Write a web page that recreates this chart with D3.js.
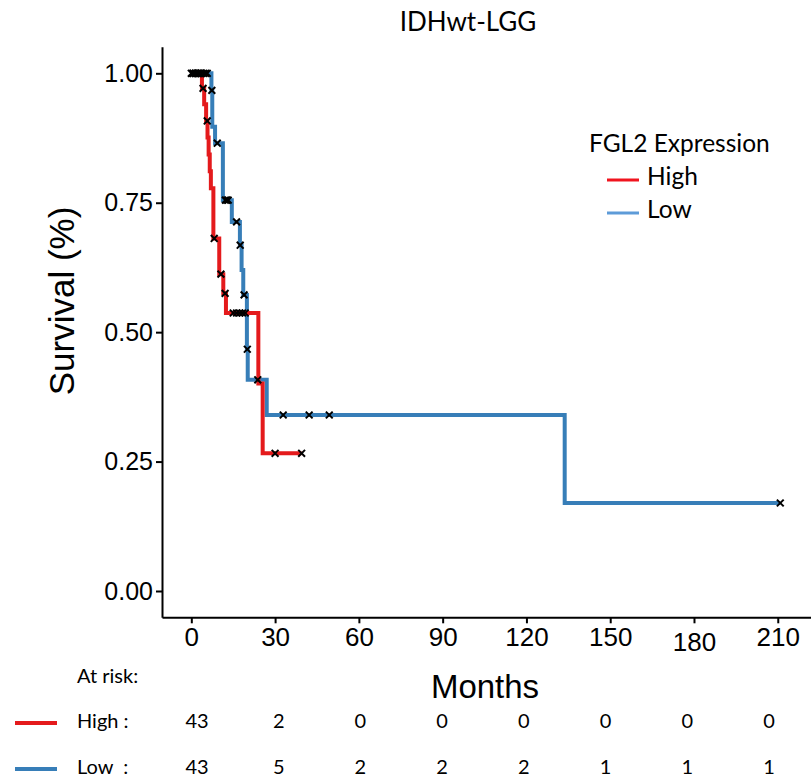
<!DOCTYPE html>
<html>
<head>
<meta charset="utf-8">
<script src="https://cdn.jsdelivr.net/npm/d3@7"></script>
<style>
  html, body { margin: 0; padding: 0; background: #fff; }
  svg { display: block; }
</style>
</head>
<body>
<svg id="chart" width="811" height="777"></svg>
<script>
// ---------------- DATA ----------------
const title = "IDHwt-LGG";
const legendTitle = "FGL2 Expression";
const groups = ["High", "Low"];

// Kaplan-Meier step points (time in months, survival after the step)
const highTimes = [0, 3.8, 4.6, 5.3, 5.8, 6.2, 6.6, 7.0, 7.9, 10.0, 11.45, 12.4, 24.0, 25.55];
const highSurv  = [1.0, 0.971, 0.940, 0.908, 0.876, 0.843, 0.811, 0.778, 0.681, 0.612, 0.575, 0.537, 0.401, 0.266];
const highEnd = 39.5;
const highCensor = [0, 0.7, 1.4, 2.1, 2.8, 3.4, 4.2, 5.7, 8.2, 10.6, 12.1, 15.0, 16.2, 17.3, 18.3, 19.3, 30.0, 39.5];

const lowTimes = [0, 7.2, 7.5, 8.5, 11.3, 14.5, 17.4, 18.0, 18.6, 19.9, 20.2, 27.0, 133.7];
const lowSurv  = [1.0, 0.967, 0.897, 0.865, 0.755, 0.713, 0.668, 0.620, 0.572, 0.467, 0.408, 0.340, 0.170];
const lowEnd = 210.9;
const lowCensor = [0.5, 1.5, 2.5, 3.5, 4.4, 5.1, 5.7, 7.35, 9.3, 12.2, 12.7, 13.2, 16.2, 17.5, 18.9, 20.05, 23.8, 32.9, 42.2, 49.4, 210.9];

const xTicks = [0, 30, 60, 90, 120, 150, 180, 210];
const yTicks = [0, 0.25, 0.5, 0.75, 1.0];

const riskHigh = [43, 2, 0, 0, 0, 0, 0, 0];
const riskLow  = [43, 5, 2, 2, 2, 1, 1, 1];

const colors = { High: "#e41a1c", Low: "#377eb8" };
const legendColors = { High: "#f0141e", Low: "#5d9bd8" };

// ---------------- LAYOUT ----------------
const svg = d3.select("#chart");
const x = d3.scaleLinear().domain([-10.5, 221.9]).range([162, 811]);
const y = d3.scaleLinear().domain([-0.0508, 1.0514]).range([617.3, 46.7]);
const riskX = d3.scalePoint().domain(xTicks).range([197, 769]);

const sansA = "'Liberation Sans', Arial, sans-serif";
const sansN = "'Liberation Sans Narrow', 'Liberation Sans', Arial, sans-serif";
const sansC = "Lato, 'Open Sans', sans-serif";

// Title
svg.append("text").attr("x", 468).attr("y", 22).attr("dy", "0.35em")
  .attr("text-anchor", "middle").style("font-family", sansC).style("font-size", "26px")
  .text(title);

// Axes
const yAxis = d3.axisLeft(y).tickValues(yTicks).tickFormat(d3.format(".2f")).tickSize(6).tickSizeOuter(0).tickPadding(3);
const gy = svg.append("g").attr("transform", "translate(162,0)").call(yAxis);
gy.selectAll("text").style("font-family", sansA).style("font-size", "25px").attr("fill", "#000");
gy.selectAll("line, path").attr("stroke", "#000").attr("stroke-width", 2);

const xAxis = d3.axisBottom(x).tickValues(xTicks).tickSize(6).tickSizeOuter(0).tickPadding(4);
const gx = svg.append("g").attr("transform", "translate(0,617.3)").call(xAxis);
gx.selectAll("text").style("font-family", sansN).style("font-size", "26px").attr("fill", "#000")
  .attr("y", d => d === 180 ? 15 : 10);
gx.selectAll("line, path").attr("stroke", "#000").attr("stroke-width", 2);

// Axis titles
svg.append("text").attr("transform", "translate(62,301) rotate(-90)").attr("dy", "0.35em")
  .attr("text-anchor", "middle").style("font-family", sansA).style("font-size", "35px")
  .text("Survival (%)");
svg.append("text").attr("x", 485).attr("y", 686).attr("dy", "0.35em")
  .attr("text-anchor", "middle").style("font-family", sansN).style("font-size", "33px")
  .text("Months");

// KM curves
function stepData(times, surv, end) {
  const pts = times.map((t, i) => [t, surv[i]]);
  pts.push([end, surv[surv.length - 1]]);
  return pts;
}
function survAt(times, surv, t) {
  let s = surv[0];
  for (let i = 0; i < times.length; i++) if (times[i] <= t) s = surv[i];
  return s;
}
const line = d3.line().x(d => x(d[0])).y(d => y(d[1])).curve(d3.curveStepAfter);

const series = [
  { name: "High", times: highTimes, surv: highSurv, end: highEnd, censor: highCensor },
  { name: "Low", times: lowTimes, surv: lowSurv, end: lowEnd, censor: lowCensor }
];

series.slice().reverse().forEach(s => {
  svg.append("path").datum(stepData(s.times, s.surv, s.end))
    .attr("d", line).attr("fill", "none").attr("stroke", colors[s.name])
    .attr("stroke-width", 4).attr("stroke-linejoin", "miter");
});

const cs = 3.4;
series.forEach(s => {
  const g = svg.append("g");
  g.selectAll("path").data(s.censor).join("path")
    .attr("transform", t => `translate(${x(t)},${y(survAt(s.times, s.surv, t))})`)
    .attr("d", `M${-cs},${-cs}L${cs},${cs}M${-cs},${cs}L${cs},${-cs}`)
    .attr("stroke", "#000").attr("stroke-width", 2).attr("fill", "none");
});

// Legend
const lg = svg.append("g");
lg.append("text").attr("x", 589).attr("y", 143).attr("dy", "0.35em")
  .style("font-family", sansC).style("font-size", "24.5px").text(legendTitle);
groups.forEach((gname, i) => {
  const yy = 176 + i * 33;
  lg.append("line").attr("x1", 607).attr("x2", 639).attr("y1", yy + 4).attr("y2", yy + 4)
    .attr("stroke", legendColors[gname]).attr("stroke-width", 3);
  lg.append("text").attr("x", 647).attr("y", yy).attr("dy", "0.35em")
    .style("font-family", sansC).style("font-size", "24.5px").text(gname);
});

// At-risk table
svg.append("text").attr("x", 77).attr("y", 676).attr("dy", "0.35em")
  .style("font-family", sansC).style("font-size", "20px").text("At risk:");
const rows = [
  { name: "High", label: "High :", vals: riskHigh, y: 721 },
  { name: "Low", label: "Low  :", vals: riskLow, y: 767 }
];
rows.forEach(r => {
  svg.append("line").attr("x1", 15).attr("x2", 57).attr("y1", r.y + 2).attr("y2", r.y + 2)
    .attr("stroke", colors[r.name]).attr("stroke-width", 4);
  svg.append("text").attr("x", 77).attr("y", r.y).attr("dy", "0.35em")
    .style("font-family", sansC).style("font-size", "20px").style("white-space", "pre")
    .attr("xml:space", "preserve").text(r.label);
  svg.append("g").selectAll("text").data(r.vals).join("text")
    .attr("x", (d, i) => riskX(xTicks[i])).attr("y", r.y).attr("dy", "0.35em")
    .attr("text-anchor", "middle").style("font-family", sansC).style("font-size", "20px")
    .text(d => d);
});
</script>
</body>
</html>
